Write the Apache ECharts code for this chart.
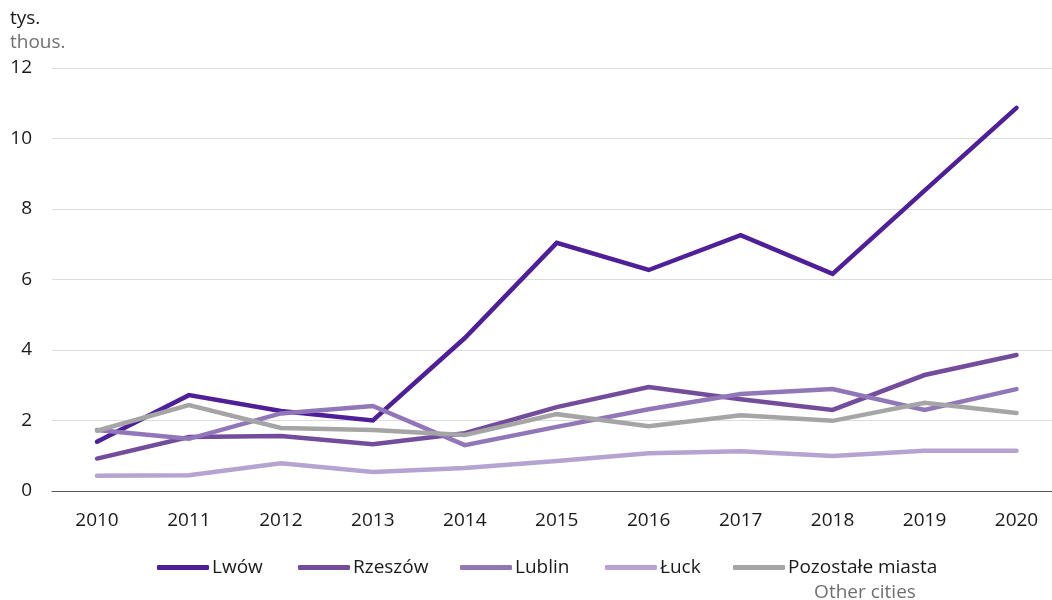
<!DOCTYPE html>
<html>
<head>
<meta charset="utf-8">
<script src="https://cdn.jsdelivr.net/npm/echarts@6/dist/echarts.min.js"></script>
<style>
  html, body { margin: 0; padding: 0; background: #ffffff; }
  #chart { width: 1052px; height: 600px; }
</style>
</head>
<body>
<div id="chart"></div>
<script>
// Years on the horizontal axis
const years = [2010, 2011, 2012, 2013, 2014, 2015, 2016, 2017, 2018, 2019, 2020];

// Values in thousands, one array per city
const lwow      = [1.40, 2.72, 2.27, 2.00, 4.34, 7.04, 6.27, 7.26, 6.16, 8.52, 10.87];
const rzeszow   = [0.92, 1.53, 1.56, 1.33, 1.64, 2.38, 2.95, 2.60, 2.30, 3.29, 3.86];
const lublin    = [1.73, 1.48, 2.20, 2.41, 1.30, 1.82, 2.32, 2.75, 2.89, 2.30, 2.89];
const luck      = [0.43, 0.45, 0.79, 0.54, 0.65, 0.85, 1.07, 1.13, 0.99, 1.14, 1.14];
const pozostale = [1.71, 2.44, 1.79, 1.73, 1.59, 2.18, 1.84, 2.15, 1.99, 2.50, 2.21];

const yTicks = [0, 2, 4, 6, 8, 10, 12];

const seriesDefs = [
  { name: 'Lwów',             data: lwow,      color: '#4e1f98' },
  { name: 'Rzeszów',          data: rzeszow,   color: '#744c9c' },
  { name: 'Lublin',           data: lublin,    color: '#9177b7' },
  { name: 'Łuck',             data: luck,      color: '#b6a3d2' },
  { name: 'Pozostałe miasta', data: pozostale, color: '#a5a5a5' }
];

// Left edge of each legend entry
const legendLeft = [152, 293, 455, 600, 728];

const FONT = '"Open Sans", "Noto Sans", sans-serif';
const FS = 19;

// The plot spans the full width; year points sit inside it with a margin on each side
const gridLeft = 52, gridRight = 0;
const firstPx = 97, lastPx = 1016.5;
const perYear = (lastPx - firstPx) / (years.length - 1);
const xMin = years[0] - (firstPx - gridLeft) / perYear;
const xMax = years[years.length - 1] + (1052 - gridRight - lastPx) / perYear;

const chart = echarts.init(document.getElementById('chart'), null, { renderer: 'canvas' });

chart.setOption({
  animation: false,
  backgroundColor: '#ffffff',
  textStyle: { fontFamily: FONT },
  grid: { left: gridLeft, right: gridRight, top: 68, bottom: 109, containLabel: false },
  xAxis: {
    type: 'value',
    min: xMin,
    max: xMax,
    splitLine: { show: false },
    axisTick: { show: false },
    axisLine: { show: true, lineStyle: { color: '#595959', width: 1 } },
    axisLabel: {
      customValues: years,
      formatter: v => String(Math.round(v)),
      color: '#1a1a1a',
      fontSize: FS,
      margin: 20,
      fontFamily: FONT
    }
  },
  yAxis: {
    type: 'value',
    min: 0,
    max: 12,
    interval: 2,
    axisLine: { show: false },
    axisTick: { show: false },
    splitLine: { show: true, lineStyle: { color: '#dcdcdc', width: 1 } },
    axisLabel: {
      color: '#1a1a1a',
      fontSize: FS,
      margin: 20,
      fontFamily: FONT,
      formatter: v => yTicks.includes(v) ? String(v) : ''
    }
  },
  legend: seriesDefs.map((s, i) => ({
    left: legendLeft[i],
    top: 553,
    itemWidth: 52,
    itemHeight: 5,
    icon: 'roundRect',
    textStyle: { color: '#1a1a1a', fontSize: FS, fontFamily: FONT, padding: [0, 0, 0, -2] },
    data: [s.name]
  })),
  graphic: [
    { type: 'text', left: 10, top: 9,
      style: { text: 'tys.', fill: '#1a1a1a', font: FS + 'px ' + FONT } },
    { type: 'text', left: 10, top: 33,
      style: { text: 'thous.', fill: '#707070', font: FS + 'px ' + FONT } },
    { type: 'text', x: 865, y: 593,
      style: { text: 'Other cities', fill: '#707070', font: FS + 'px ' + FONT,
               align: 'center', verticalAlign: 'middle' } }
  ],
  series: seriesDefs.map(s => ({
    name: s.name,
    type: 'line',
    data: s.data.map((v, i) => [years[i], v]),
    showSymbol: false,
    symbol: 'none',
    smooth: false,
    color: s.color,
    lineStyle: { color: s.color, width: 4.5, cap: 'round', join: 'miter' },
    emphasis: { disabled: true }
  }))
});
</script>
</body>
</html>
